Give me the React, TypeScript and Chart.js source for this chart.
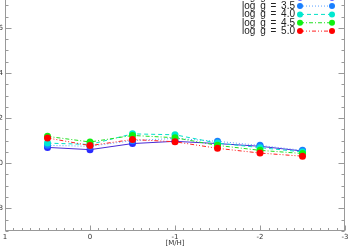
import React, { useEffect, useRef } from 'react';
import { Chart, registerables } from 'chart.js';
Chart.register(...registerables);

const metallicity = [0.5, 0, -0.5, -1, -1.5, -2, -2.5];
const seriesLabels = ['log g = 3.0', 'log g = 3.5', 'log g = 4.0', 'log g = 4.5', 'log g = 5.0'];
const logg30 = [1.070, 1.060, 1.087, 1.097, 1.087, 1.075, 1.054];
const logg35 = [1.079, 1.075, 1.100, 1.110, 1.097, 1.079, 1.057];
const logg40 = [1.089, 1.083, 1.130, 1.126, 1.089, 1.069, 1.050];
const logg45 = [1.119, 1.094, 1.123, 1.113, 1.079, 1.057, 1.043];
const logg50 = [1.112, 1.078, 1.105, 1.095, 1.066, 1.045, 1.031];
const xTicks = [1, 0, -1, -2, -3];
const yTicks = [0.8, 1.0, 1.2, 1.4, 1.6];
const xRange = [-3, 1];
const yRange = [0.7, 1.75];
const xMinorStep = 0.1;
const yMinorStep = 0.05;

const markerColors = ['#2b2bff', '#1a7fff', '#00e8d0', '#10f010', '#ff0000'];
const lineColors = ['#4b2bd6', '#5aa0ff', '#00e0c8', '#20e020', '#ff2020'];
const dashes: number[][] = [[], [1, 2], [4, 3], [4, 2, 1, 2], [4, 2, 1, 2, 1, 2]];

const AXIS_COLOR = '#999999';

const idlAxes = {
  id: 'idlAxes',
  beforeDatasetsDraw(chart: any) {
    const { ctx, chartArea } = chart;
    const xs = chart.scales.x;
    const ys = chart.scales.y;
    const L = Math.round(chartArea.left) + 0.5;
    const R = Math.round(chartArea.right) - 0.5;
    const T = Math.round(chartArea.top) + 0.5;
    const B = Math.round(chartArea.bottom) - 0.5;
    ctx.save();
    ctx.strokeStyle = AXIS_COLOR;
    ctx.lineWidth = 1;
    ctx.strokeRect(L, T, R - L, B - T);
    ctx.beginPath();
    const yn = Math.round((yRange[1] - yRange[0]) / yMinorStep);
    for (let i = 0; i <= yn; i++) {
      const v = yRange[0] + i * yMinorStep;
      const major = yTicks.some((t) => Math.abs(t - v) < 1e-6);
      const len = major ? 6 : 3;
      const py = Math.round(ys.getPixelForValue(v)) + 0.5;
      ctx.moveTo(L, py); ctx.lineTo(L + len, py);
      ctx.moveTo(R, py); ctx.lineTo(R - len, py);
    }
    const xn = Math.round((xRange[1] - xRange[0]) / xMinorStep);
    for (let i = 0; i <= xn; i++) {
      const v = xRange[0] + i * xMinorStep;
      const major = xTicks.some((t) => Math.abs(t - v) < 1e-6);
      const len = major ? 5 : 2.5;
      const px = Math.round(xs.getPixelForValue(v)) + 0.5;
      ctx.moveTo(px, B); ctx.lineTo(px, B - len);
      ctx.moveTo(px, T); ctx.lineTo(px, T + len);
    }
    ctx.stroke();
    ctx.restore();
  },
};

const idlLegend = {
  id: 'idlLegend',
  afterDraw(chart: any) {
    const { ctx, chartArea } = chart;
    const textRight = chartArea.right - 50;
    const m1 = chartArea.right - 45;
    const m2 = chartArea.right - 13;
    ctx.save();
    ctx.font = '10px "Liberation Sans", Arial, sans-serif';
    try { (ctx as any).wordSpacing = '2px'; } catch (e) { /* ignore */ }
    ctx.textAlign = 'right';
    ctx.textBaseline = 'middle';
    chart.data.datasets.forEach((ds: any, i: number) => {
      const y = chartArea.top + 3.7 + i * 8.35;
      ctx.fillStyle = '#222222';
      ctx.fillText(ds.label, textRight, y);
      ctx.strokeStyle = ds.borderColor;
      ctx.lineWidth = 1;
      ctx.setLineDash(ds.borderDash || []);
      ctx.beginPath();
      ctx.moveTo(m1, y); ctx.lineTo(m2, y);
      ctx.stroke();
      ctx.setLineDash([]);
      ctx.fillStyle = ds.pointBackgroundColor;
      [m1, m2].forEach((mx) => {
        ctx.beginPath();
        ctx.arc(mx, y, 3, 0, Math.PI * 2);
        ctx.fill();
      });
    });
    ctx.restore();
  },
};

export default function App() {
  const ref = useRef<HTMLCanvasElement | null>(null);
  useEffect(() => {
    if (!ref.current) return;
    const series = [logg30, logg35, logg40, logg45, logg50];
    const chart = new Chart(ref.current, {
      type: 'line',
      data: {
        datasets: series.map((vals, i) => ({
          label: seriesLabels[i],
          data: metallicity.map((m, j) => ({ x: m, y: vals[j] })),
          borderColor: lineColors[i],
          borderWidth: 1,
          borderDash: dashes[i],
          pointBackgroundColor: markerColors[i],
          pointBorderColor: markerColors[i],
          pointBorderWidth: 0,
          pointRadius: 3.5,
          tension: 0,
          fill: false,
          order: series.length - i,
        })),
      },
      plugins: [idlAxes, idlLegend],
      options: {
        animation: false,
        responsive: false,
        devicePixelRatio: 1,
        layout: { padding: { top: 2, left: 0, right: 10, bottom: 1.125 } },
        plugins: { legend: { display: false }, tooltip: { enabled: false }, title: { display: false } },
        scales: {
          x: {
            type: 'linear',
            min: xRange[0],
            max: xRange[1],
            reverse: true,
            grid: { display: false, drawTicks: false },
            border: { display: false },
            afterBuildTicks: (s: any) => { s.ticks = xTicks.map((value) => ({ value })); },
            afterFit: (s: any) => { s.height = 20; s.paddingLeft = 0; s.paddingRight = 0; },
            ticks: {
              padding: 2,
              color: '#333333',
              font: { family: 'DejaVu Sans', size: 7 },
              maxRotation: 0,
              autoSkip: false,
              callback: (v: any) => String(v),
            },
            title: {
              display: true,
              text: '[M/H]',
              color: '#333333',
              font: { family: 'DejaVu Sans', size: 7 },
              padding: { top: 0, bottom: 3.7 },
            },
          },
          y: {
            type: 'linear',
            min: yRange[0],
            max: yRange[1],
            grid: { display: false, drawTicks: false },
            border: { display: false },
            afterBuildTicks: (s: any) => { s.ticks = yTicks.map((value) => ({ value })); },
            afterFit: (s: any) => { s.width = 25; s.paddingTop = 0; s.paddingBottom = 0; },
            ticks: {
              padding: 2,
              color: '#333333',
              font: { family: 'DejaVu Sans', size: 7 },
              autoSkip: false,
              callback: (v: any) => Number(v).toFixed(1),
            },
          },
        },
      },
    } as any);
    return () => chart.destroy();
  }, []);
  return (
    <div style={{ position: 'absolute', left: 0, top: 0, width: 350, height: 249, overflow: 'hidden', background: '#fff' }}>
      <canvas ref={ref} width={375} height={262} style={{ position: 'absolute', left: -20, top: -10, width: 375, height: 262 }} />
    </div>
  );
}
